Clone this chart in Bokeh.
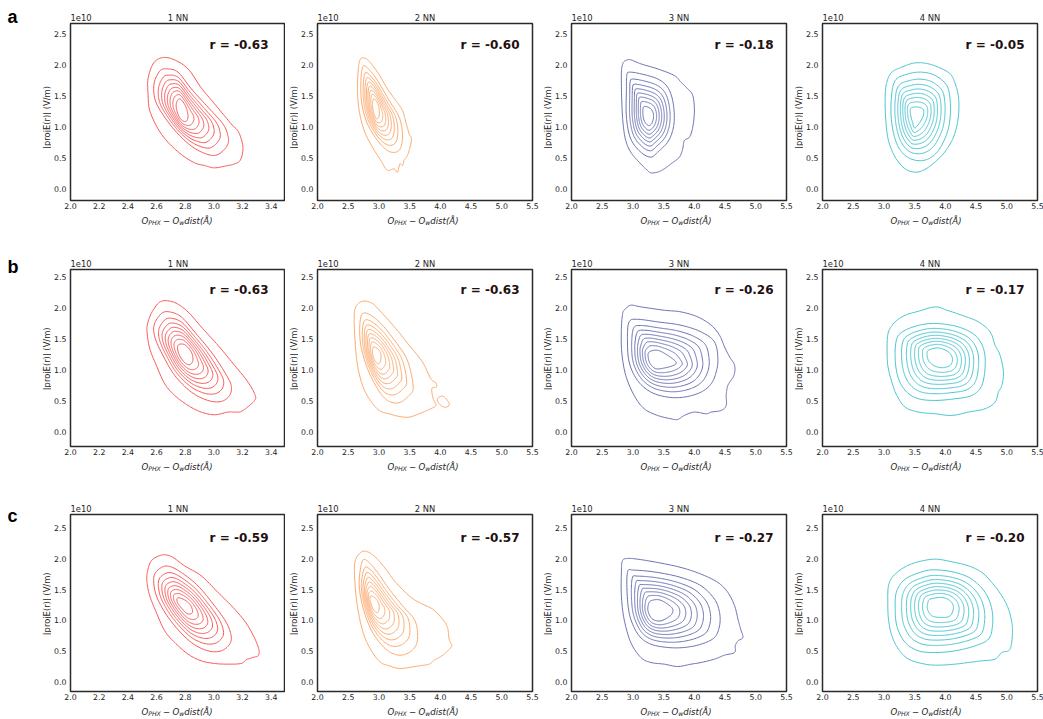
import numpy as np
from bokeh.plotting import figure
from bokeh.models import Label, FixedTicker, PrintfTickFormatter, Range1d, LinearAxis
from bokeh.layouts import column, row
from bokeh.embed import file_html
from bokeh.resources import INLINE

# ---------------- chart values ----------------
PANEL_LETTERS = ["a", "b", "c"]
NN_TITLES = ["1 NN", "2 NN", "3 NN", "4 NN"]
R_VALUES = [[-0.63, -0.60, -0.18, -0.05],
            [-0.63, -0.63, -0.26, -0.17],
            [-0.59, -0.57, -0.27, -0.20]]
NN_COLORS = ["#fa5656", "#fda96c", "#6a71b1", "#47c5cf"]
X_TICKS_1NN = [2.0, 2.2, 2.4, 2.6, 2.8, 3.0, 3.2, 3.4]
X_TICKS_WIDE = [2.0, 2.5, 3.0, 3.5, 4.0, 4.5, 5.0, 5.5]
Y_TICKS = [0.0, 0.5, 1.0, 1.5, 2.0, 2.5]
X_LIMITS = [(2.0, 3.5), (2.0, 5.5), (2.0, 5.5), (2.0, 5.5)]
Y_LIMITS = [(-0.188, 2.667), (-0.226, 2.629), (-0.158, 2.728)]
Y_EXPONENT = "1e10"
Y_LABEL = "|projE(r)| (V/m)"
# x label: O_PHX - O_w dist(Å)  (text, is_subscript)
X_LABEL_PIECES = [("O", False), ("PHX", True), ("\u2212", False), ("O", False), ("w", True), ("dist(\u00c5)", False)]
# relative spacing of the inner KDE contour lines between ring 2 (1.0) and the innermost ring (0.0)
INNER_FRACTIONS = [0.799, 0.648, 0.516, 0.393, 0.274, 0.147]

# contour rings (x in Angstrom, y in 1e10 V/m)
A1_OUTER = [(2.541,1.774),(2.576,2.016),(2.634,2.113),(2.715,2.091),(2.820,1.935),(2.912,1.629),(3.005,1.371),(3.121,1.048),(3.173,0.914),(3.203,0.672),(3.186,0.468),(3.145,0.403),(3.098,0.376),(3.005,0.339),(2.936,0.376),(2.866,0.419),(2.773,0.554),(2.680,0.753),(2.611,0.968),(2.553,1.263),(2.541,1.532)]
A1_RING2 = [(2.583,1.694),(2.622,1.898),(2.669,1.935),(2.750,1.882),(2.843,1.613),(2.959,1.317),(3.063,1.048),(3.098,0.860),(3.094,0.699),(3.029,0.554),(2.959,0.554),(2.854,0.672),(2.750,0.887),(2.657,1.156),(2.592,1.425)]
A1_CORE = [(2.762,1.452),(2.801,1.344),(2.820,1.183),(2.808,1.091),(2.773,1.113),(2.745,1.237),(2.738,1.371)]

A2_OUTER = [(2.733,2.113),(2.830,2.070),(2.977,1.882),(3.139,1.613),(3.275,1.425),(3.384,1.263),(3.438,1.075),(3.492,0.887),(3.530,0.806),(3.492,0.618),(3.449,0.511),(3.411,0.468),(3.384,0.376),(3.340,0.403),(3.302,0.269),(3.248,0.323),(3.167,0.296),(3.112,0.323),(3.031,0.457),(2.895,0.672),(2.760,0.941),(2.678,1.263),(2.651,1.586),(2.662,1.909),(2.689,2.070)]
A2_RING2 = [(2.760,1.989),(2.860,1.900),(2.977,1.747),(3.167,1.425),(3.329,1.156),(3.384,0.887),(3.357,0.672),(3.275,0.591),(3.139,0.618),(2.977,0.780),(2.814,1.048),(2.722,1.371),(2.705,1.694),(2.722,1.909)]
A2_CORE = [(2.922,1.452),(2.993,1.344),(3.004,1.183),(2.960,1.129),(2.912,1.237),(2.895,1.371)]

A3_OUTER = [(2.883,2.070),(2.965,2.081),(3.129,2.016),(3.401,1.935),(3.674,1.828),(3.783,1.720),(3.892,1.613),(3.974,1.505),(4.001,1.263),(3.974,0.995),(3.919,0.833),(3.837,0.780),(3.810,0.645),(3.756,0.511),(3.619,0.403),(3.510,0.323),(3.401,0.269),(3.292,0.258),(3.238,0.296),(3.101,0.430),(2.965,0.591),(2.883,0.780),(2.840,1.048),(2.818,1.425),(2.812,1.855),(2.834,2.016)]
A3_RING2 = [(2.938,1.882),(3.129,1.855),(3.401,1.774),(3.565,1.640),(3.647,1.425),(3.674,1.156),(3.647,0.941),(3.565,0.753),(3.401,0.591),(3.292,0.511),(3.129,0.591),(2.965,0.806),(2.894,1.156),(2.894,1.586),(2.900,1.828)]
A3_CORE = [(3.183,1.328),(3.292,1.290),(3.336,1.183),(3.309,1.059),(3.249,1.022),(3.183,1.102),(3.161,1.237)]

A4_OUTER = [(3.129,1.882),(3.291,1.962),(3.481,2.027),(3.671,2.027),(3.888,1.962),(4.078,1.855),(4.160,1.694),(4.214,1.478),(4.214,1.183),(4.160,0.914),(4.078,0.726),(3.942,0.538),(3.725,0.349),(3.536,0.269),(3.346,0.323),(3.183,0.511),(3.074,0.780),(3.031,1.102),(3.020,1.478),(3.047,1.720)]
A4_RING2 = [(3.183,1.747),(3.400,1.855),(3.617,1.882),(3.834,1.828),(4.024,1.667),(4.078,1.425),(4.078,1.156),(4.024,0.887),(3.888,0.618),(3.725,0.484),(3.536,0.457),(3.346,0.538),(3.210,0.726),(3.129,1.048),(3.118,1.425)]
A4_CORE = [(3.443,1.306),(3.563,1.317),(3.644,1.274),(3.628,1.145),(3.508,0.984),(3.465,1.075),(3.432,1.210)]

B1_OUTER = [(2.541,1.783),(2.576,1.972),(2.634,2.117),(2.727,2.096),(2.820,1.945),(2.912,1.703),(3.029,1.406),(3.145,1.083),(3.238,0.814),(3.289,0.598),(3.284,0.517),(3.249,0.436),(3.191,0.339),(3.145,0.329),(3.098,0.329),(3.005,0.286),(2.912,0.329),(2.820,0.436),(2.727,0.598),(2.657,0.787),(2.599,1.083),(2.553,1.352),(2.534,1.622)]
B1_RING2 = [(2.583,1.730),(2.634,1.918),(2.692,1.945),(2.773,1.864),(2.866,1.622),(2.982,1.298),(3.075,0.975),(3.121,0.760),(3.110,0.598),(3.052,0.501),(2.959,0.517),(2.843,0.652),(2.727,0.921),(2.645,1.245),(2.592,1.514)]
B1_CORE = [(2.750,1.406),(2.796,1.417),(2.843,1.298),(2.854,1.164),(2.831,1.094),(2.792,1.137),(2.755,1.272)]

B2_OUTER = [(2.733,2.117),(2.895,2.080),(3.058,1.918),(3.275,1.676),(3.492,1.406),(3.709,1.137),(3.845,0.867),(3.926,0.803),(3.937,0.733),(3.861,0.706),(3.883,0.544),(3.926,0.436),(3.818,0.372),(3.655,0.302),(3.492,0.248),(3.329,0.259),(3.167,0.302),(3.004,0.356),(2.841,0.544),(2.733,0.760),(2.651,1.083),(2.613,1.460),(2.597,1.837),(2.624,2.026)]
B2_ISLAND = [(3.953,0.544),(4.035,0.587),(4.116,0.517),(4.143,0.436),(4.062,0.409),(3.980,0.463)]
B2_RING2 = [(2.733,1.918),(2.868,1.891),(3.058,1.730),(3.275,1.460),(3.438,1.218),(3.519,0.975),(3.557,0.706),(3.492,0.598),(3.329,0.480),(3.139,0.517),(2.977,0.706),(2.814,1.029),(2.705,1.406),(2.689,1.730)]
B2_CORE = [(2.912,1.379),(3.004,1.326),(3.036,1.218),(3.004,1.110),(2.939,1.148),(2.895,1.272)]

B3_OUTER = [(2.856,1.972),(2.965,2.053),(3.129,2.026),(3.510,1.972),(3.783,1.945),(4.056,1.864),(4.274,1.730),(4.410,1.568),(4.492,1.379),(4.574,1.218),(4.655,1.083),(4.644,0.921),(4.546,0.760),(4.519,0.598),(4.519,0.436),(4.437,0.356),(4.274,0.329),(4.192,0.302),(4.001,0.329),(3.837,0.275),(3.728,0.210),(3.619,0.221),(3.401,0.275),(3.183,0.383),(3.020,0.598),(2.883,0.921),(2.818,1.298),(2.812,1.676),(2.829,1.891)]
B3_RING2 = [(2.938,1.784),(3.074,1.826),(3.401,1.784),(3.783,1.730),(4.110,1.622),(4.328,1.460),(4.383,1.191),(4.355,0.975),(4.274,0.787),(4.110,0.652),(3.837,0.571),(3.565,0.571),(3.292,0.652),(3.074,0.841),(2.938,1.137),(2.911,1.514)]
B3_CORE = [(3.265,1.298),(3.401,1.326),(3.565,1.245),(3.701,1.137),(3.663,1.083),(3.510,1.040),(3.374,1.029),(3.281,1.110),(3.248,1.218)]

B4_OUTER = [(3.074,1.622),(3.183,1.784),(3.346,1.891),(3.563,1.956),(3.834,2.026),(4.024,1.972),(4.268,1.891),(4.539,1.784),(4.729,1.622),(4.810,1.406),(4.891,1.245),(4.946,0.975),(4.919,0.760),(4.864,0.652),(4.810,0.490),(4.647,0.383),(4.377,0.329),(4.105,0.275),(3.834,0.302),(3.563,0.329),(3.346,0.409),(3.210,0.598),(3.129,0.814),(3.063,1.083),(3.052,1.406)]
B4_RING2 = [(3.210,1.514),(3.346,1.649),(3.617,1.740),(3.888,1.756),(4.214,1.703),(4.485,1.568),(4.621,1.352),(4.648,1.083),(4.594,0.760),(4.431,0.598),(4.160,0.544),(3.834,0.517),(3.563,0.544),(3.373,0.652),(3.237,0.867),(3.183,1.191)]
B4_CORE = [(3.725,1.326),(3.888,1.363),(4.051,1.298),(4.116,1.191),(4.078,1.083),(3.942,1.045),(3.806,1.083),(3.725,1.164),(3.703,1.255)]

C1_OUTER = [(2.536,1.783),(2.564,1.973),(2.634,2.065),(2.704,2.043),(2.796,1.891),(2.912,1.728),(3.029,1.457),(3.145,1.185),(3.238,0.913),(3.307,0.587),(3.312,0.435),(3.272,0.397),(3.226,0.359),(3.191,0.299),(3.098,0.288),(3.005,0.299),(2.912,0.342),(2.820,0.451),(2.727,0.641),(2.657,0.832),(2.599,1.130),(2.553,1.402),(2.534,1.620)]
C1_RING2 = [(2.583,1.728),(2.634,1.864),(2.692,1.880),(2.773,1.783),(2.889,1.565),(3.005,1.239),(3.087,0.967),(3.121,0.750),(3.110,0.614),(3.052,0.505),(2.959,0.505),(2.843,0.641),(2.727,0.913),(2.645,1.185),(2.592,1.457)]
C1_CORE = [(2.750,1.370),(2.800,1.330),(2.840,1.240),(2.850,1.130),(2.815,1.110),(2.775,1.200),(2.745,1.300)]

C2_OUTER = [(2.705,2.109),(2.814,2.120),(2.950,2.027),(3.112,1.837),(3.275,1.620),(3.492,1.402),(3.655,1.293),(3.872,1.185),(4.035,1.022),(4.116,0.886),(4.143,0.696),(4.187,0.587),(4.143,0.533),(4.062,0.451),(3.980,0.397),(3.899,0.353),(3.818,0.288),(3.655,0.261),(3.492,0.234),(3.329,0.217),(3.167,0.261),(3.031,0.315),(2.895,0.478),(2.760,0.750),(2.667,1.130),(2.613,1.565),(2.608,1.946)]
C2_RING2 = [(2.733,1.973),(2.841,1.946),(2.977,1.783),(3.167,1.511),(3.384,1.239),(3.573,1.022),(3.628,0.804),(3.600,0.587),(3.438,0.451),(3.248,0.451),(3.058,0.587),(2.868,0.859),(2.733,1.239),(2.678,1.620)]
C2_CORE = [(2.868,1.402),(2.960,1.348),(3.004,1.239),(2.982,1.130),(2.906,1.185),(2.857,1.321)]

C3_OUTER = [(2.829,1.973),(2.911,2.011),(3.074,2.000),(3.401,1.946),(3.783,1.864),(4.110,1.755),(4.383,1.620),(4.546,1.457),(4.655,1.239),(4.710,1.022),(4.753,0.859),(4.791,0.723),(4.710,0.668),(4.666,0.587),(4.655,0.478),(4.492,0.435),(4.328,0.370),(4.110,0.315),(3.947,0.288),(3.728,0.250),(3.510,0.288),(3.292,0.315),(3.129,0.397),(2.965,0.641),(2.856,1.022),(2.812,1.402),(2.812,1.783)]
C3_RING2 = [(2.911,1.783),(3.020,1.821),(3.401,1.783),(3.783,1.701),(4.110,1.565),(4.328,1.348),(4.410,1.130),(4.410,0.913),(4.328,0.723),(4.110,0.614),(3.837,0.560),(3.565,0.560),(3.292,0.614),(3.101,0.750),(2.965,1.022),(2.911,1.348)]
C3_CORE = [(3.292,1.321),(3.428,1.337),(3.565,1.266),(3.647,1.185),(3.619,1.087),(3.456,0.995),(3.319,1.022),(3.249,1.141),(3.249,1.250)]

C4_OUTER = [(3.074,1.565),(3.156,1.728),(3.346,1.875),(3.563,1.957),(3.834,2.000),(4.105,1.957),(4.377,1.891),(4.594,1.783),(4.756,1.620),(4.919,1.402),(5.028,1.185),(5.082,0.967),(5.093,0.804),(5.071,0.587),(5.028,0.505),(4.919,0.478),(4.810,0.370),(4.594,0.342),(4.377,0.315),(4.160,0.288),(3.888,0.272),(3.671,0.288),(3.400,0.370),(3.237,0.533),(3.129,0.750),(3.074,1.022),(3.063,1.293)]
C4_RING2 = [(3.210,1.484),(3.346,1.674),(3.617,1.793),(3.834,1.826),(4.160,1.783),(4.431,1.674),(4.648,1.457),(4.756,1.185),(4.767,0.913),(4.702,0.696),(4.485,0.587),(4.160,0.505),(3.834,0.478),(3.563,0.505),(3.346,0.641),(3.210,0.913),(3.183,1.239)]
C4_CORE = [(3.753,1.348),(3.942,1.375),(4.078,1.321),(4.132,1.212),(4.078,1.076),(3.942,1.049),(3.780,1.076),(3.709,1.185),(3.714,1.283)]

PANELS = [
    [dict(outer=A1_OUTER, ring2=A1_RING2, core=A1_CORE, islands=[]),
     dict(outer=A2_OUTER, ring2=A2_RING2, core=A2_CORE, islands=[]),
     dict(outer=A3_OUTER, ring2=A3_RING2, core=A3_CORE, islands=[]),
     dict(outer=A4_OUTER, ring2=A4_RING2, core=A4_CORE, islands=[])],
    [dict(outer=B1_OUTER, ring2=B1_RING2, core=B1_CORE, islands=[]),
     dict(outer=B2_OUTER, ring2=B2_RING2, core=B2_CORE, islands=[B2_ISLAND]),
     dict(outer=B3_OUTER, ring2=B3_RING2, core=B3_CORE, islands=[]),
     dict(outer=B4_OUTER, ring2=B4_RING2, core=B4_CORE, islands=[])],
    [dict(outer=C1_OUTER, ring2=C1_RING2, core=C1_CORE, islands=[]),
     dict(outer=C2_OUTER, ring2=C2_RING2, core=C2_CORE, islands=[]),
     dict(outer=C3_OUTER, ring2=C3_RING2, core=C3_CORE, islands=[]),
     dict(outer=C4_OUTER, ring2=C4_RING2, core=C4_CORE, islands=[])],
]

# ---------------- layout constants (page pixels) ----------------
FRAME_W, FRAME_H = 215, 177
COL_FRAME_LEFT = [69, 315, 568, 818]
ROW_FRAME_TOP = [23, 268, 512]
LETTER_W = 22
PB_LEFT = 18
PB_RIGHT = [0, 7, 7, 8]
PB_TOP = [23, 13, 13]
PB_BOTTOM = 12
TOTAL_W = COL_FRAME_LEFT[3] + FRAME_W + PB_RIGHT[3]
TOTAL_H = 714
R_TEXT_RIGHT = [198, 202, 202, 202]
R_TEXT_DROP = [21.3, 20.0, 23.0]
LETTER_BASELINE = [16.5, 266.0, 515.0]
LETTER_LEFT = 7
FONT = "DejaVu Sans"
TEXT_COLOR = "#1e1e1e"
TICK_SIZE = 7.8
LABEL_SIZE = 8.4


def closed_spline(pts, n_per=10):
    P = np.asarray(pts, float)
    n = len(P)
    t = np.linspace(0, 1, n_per, endpoint=False)[:, None]
    segs = []
    for i in range(n):
        p0, p1, p2, p3 = P[(i - 1) % n], P[i], P[(i + 1) % n], P[(i + 2) % n]
        segs.append(0.5 * (2 * p1 + (-p0 + p2) * t + (2 * p0 - 5 * p1 + 4 * p2 - p3) * t ** 2
                           + (-p0 + 3 * p1 - 3 * p2 + p3) * t ** 3))
    out = np.vstack(segs)
    return np.vstack([out, out[:1]])


def radial_profile(curve, center, thetas, scale):
    P = (curve - center) * scale
    A, B = P[:-1], P[1:]
    E = B - A
    d = np.stack([np.cos(thetas), np.sin(thetas)], 1)
    denom = d[:, None, 0] * E[None, :, 1] - d[:, None, 1] * E[None, :, 0]
    crossAE = A[:, 0] * E[:, 1] - A[:, 1] * E[:, 0]
    crossAd = A[None, :, 0] * d[:, None, 1] - A[None, :, 1] * d[:, None, 0]
    with np.errstate(divide="ignore", invalid="ignore"):
        r = crossAE[None, :] / denom
        u = crossAd / denom
    ok = (np.abs(denom) > 1e-12) & (u >= 0) & (u <= 1) & (r > 0)
    return np.where(ok, r, 0).max(axis=1)


def panel_rings(panel, xr, yr):
    scale = np.array([FRAME_W / (xr[1] - xr[0]), FRAME_H / (yr[1] - yr[0])])
    outer = closed_spline(panel["outer"])
    ring2 = closed_spline(panel["ring2"])
    core = closed_spline(panel["core"])
    center = np.asarray(panel["core"], float).mean(axis=0)
    th = np.linspace(0, 2 * np.pi, 241)
    r2 = radial_profile(ring2, center, th, scale)
    r9 = radial_profile(core, center, th, scale)
    d = np.stack([np.cos(th), np.sin(th)], 1)
    rings = [outer, ring2]
    for f in INNER_FRACTIONS:
        rr = r9 + f * (r2 - r9)
        rings.append(center + rr[:, None] * d / scale)
    rings.append(core)
    for isl in panel["islands"]:
        rings.append(closed_spline(isl))
    return [r[:, 0] for r in rings], [r[:, 1] for r in rings]


class Strip:
    """A plain figure whose frame fills the canvas; texts are placed in page pixels."""
    def __init__(self, left, top, w, h):
        self.left, self.top, self.w, self.h = left, top, w, h
        f = figure(width=w, height=h, x_range=Range1d(0, w), y_range=Range1d(0, h),
                   title=None, min_border=0, min_border_left=0, min_border_right=0,
                   min_border_top=0, min_border_bottom=0,
                   x_axis_type=None, y_axis_type=None,
                   output_backend="svg", toolbar_location=None, tools="")
        f.outline_line_color = None
        f.background_fill_color = "white"
        f.border_fill_color = "white"
        self.fig = f

    def text(self, px, py, text, size, style="normal", font=FONT, align="left",
             baseline="alphabetic", color=TEXT_COLOR, angle=0.0):
        self.fig.add_layout(Label(x=px - self.left, y=self.top + self.h - py, text=text,
                                  text_font=font, text_font_size=f"{size}px",
                                  text_font_style=style, text_align=align,
                                  text_baseline=baseline, text_color=color, angle=angle))


def style_axis(ax):
    ax.axis_line_color = None
    ax.major_tick_line_color = None
    ax.minor_tick_line_color = None
    ax.major_tick_out = 0
    ax.major_tick_in = 0
    ax.major_label_text_font = FONT
    ax.major_label_text_color = TEXT_COLOR


def make_panel(ri, ci):
    xr, yr = X_LIMITS[ci], Y_LIMITS[ri]
    p = figure(frame_width=FRAME_W, frame_height=FRAME_H,
               x_range=Range1d(*xr), y_range=Range1d(*yr),
               min_border_left=PB_LEFT, min_border_right=PB_RIGHT[ci],
               min_border_top=PB_TOP[ri], min_border_bottom=PB_BOTTOM,
               output_backend="svg", toolbar_location=None, tools="")
    p.grid.visible = False
    p.outline_line_color = "#2a2a2a"
    p.outline_line_width = 1.5
    p.background_fill_color = "white"
    p.border_fill_color = "white"

    xticks = X_TICKS_1NN if ci == 0 else X_TICKS_WIDE
    p.xaxis.ticker = FixedTicker(ticks=xticks, minor_ticks=[])
    p.yaxis.ticker = FixedTicker(ticks=Y_TICKS, minor_ticks=[])
    p.xaxis.formatter = PrintfTickFormatter(format="%.1f")
    p.yaxis.formatter = PrintfTickFormatter(format="%.1f")
    for ax in (p.xaxis[0], p.yaxis[0]):
        style_axis(ax)
        ax.major_label_text_font_size = f"{TICK_SIZE}px"
    p.xaxis.major_label_standoff = 2
    p.yaxis.major_label_standoff = 4

    # header line above the frame: offset text "1e10" at the left, panel title centred
    px_per_x = FRAME_W / (xr[1] - xr[0])
    exp_w = 2.523 * LABEL_SIZE
    head_ticks = [xr[0] + (exp_w / 2) / px_per_x, (xr[0] + xr[1]) / 2]
    head = LinearAxis(ticker=FixedTicker(ticks=head_ticks, minor_ticks=[]),
                      major_label_overrides={head_ticks[0]: Y_EXPONENT, head_ticks[1]: NN_TITLES[ci]})
    style_axis(head)
    head.major_label_text_font_size = f"{LABEL_SIZE}px"
    head.major_label_standoff = 1
    p.add_layout(head, "above")

    xs, ys = panel_rings(PANELS[ri][ci], xr, yr)
    p.multi_line(xs=xs, ys=ys, line_color=NN_COLORS[ci], line_width=1.0)

    p.add_layout(Label(x=R_TEXT_RIGHT[ci], y=FRAME_H - R_TEXT_DROP[ri], x_units="screen",
                       y_units="screen", text=f"r = {R_VALUES[ri][ci]:.2f}", text_font=FONT,
                       text_font_size="12px", text_font_style="bold", text_align="right",
                       text_baseline="middle", text_color="#230f0f"))
    return p


row_fig_top = [t - PB_TOP[i] for i, t in enumerate(ROW_FRAME_TOP)]
row_fig_bottom = [t + FRAME_H + PB_BOTTOM for t in ROW_FRAME_TOP]
# horizontal strips below each row carry the x-axis labels
strip_bounds = [(row_fig_bottom[0], row_fig_top[1]), (row_fig_bottom[1], row_fig_top[2]),
                (row_fig_bottom[2], TOTAL_H)]
hstrips = [Strip(LETTER_W, a, TOTAL_W - LETTER_W, b - a) for a, b in strip_bounds]

# letter strip at the far left
letters = Strip(0, 0, LETTER_W, TOTAL_H)
for ri in range(3):
    letters.text(LETTER_LEFT, LETTER_BASELINE[ri], PANEL_LETTERS[ri], 18, style="bold",
                 font="Liberation Sans", color="#000000")

main_size, sub_size = 8.6, 6.2
adv = {"O": 0.787, "PHX": 2.04, "w": 0.818, "\u2212": 0.838, "dist(\u00c5)": 3.29}

blocks = []
for ri in range(3):
    ft = ROW_FRAME_TOP[ri]
    fb = ft + FRAME_H
    strip = hstrips[ri]
    items = []
    prev_end = LETTER_W
    for ci in range(4):
        fl = COL_FRAME_LEFT[ci]
        # x label pieces
        x = fl + FRAME_W / 2 - 35.6
        for txt, is_sub in X_LABEL_PIECES:
            size = sub_size if is_sub else main_size
            base = fb + 20.2 + (2.0 if is_sub else 0.0)
            style = "normal" if txt == "\u2212" else "italic"
            if txt == "\u2212":
                x += 2.2
            strip.text(x, base, txt, size, style=style)
            x += adv[txt] * size
            if txt == "\u2212":
                x += 2.2
        # vertical strip with the y label
        vw = fl - PB_LEFT - prev_end
        vs = Strip(prev_end, row_fig_top[ri], vw, row_fig_bottom[ri] - row_fig_top[ri])
        vs.text(fl - 23, ft + FRAME_H / 2 + 1, Y_LABEL, LABEL_SIZE, align="center",
                baseline="middle", angle=np.pi / 2)
        items.append(vs.fig)
        items.append(make_panel(ri, ci))
        prev_end = fl + FRAME_W + PB_RIGHT[ci]
    blocks.append(row(items, spacing=0))
    blocks.append(strip.fig)

layout = row([letters.fig, column(blocks, spacing=0)], spacing=0)

open("out.html", "w").write(file_html(layout, INLINE))
